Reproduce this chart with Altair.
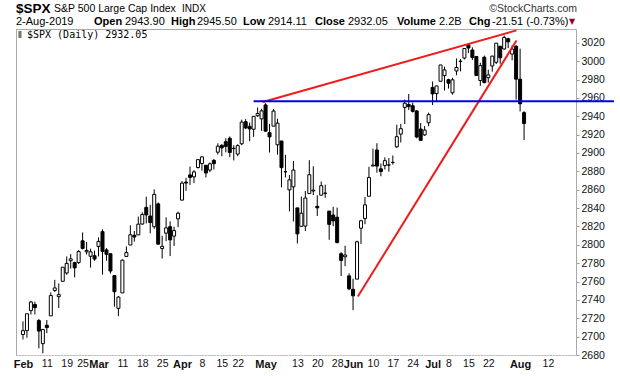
import json
import altair as alt
import pandas as pd

# ---------------- data ----------------
dates = [
    "2019-02-01", "2019-02-04", "2019-02-05", "2019-02-06", "2019-02-07", "2019-02-08", "2019-02-11", "2019-02-12",
    "2019-02-13", "2019-02-14", "2019-02-15", "2019-02-19", "2019-02-20", "2019-02-21", "2019-02-22", "2019-02-25",
    "2019-02-26", "2019-02-27", "2019-02-28",
    "2019-03-01", "2019-03-04", "2019-03-05", "2019-03-06", "2019-03-07", "2019-03-08", "2019-03-11", "2019-03-12",
    "2019-03-13", "2019-03-14", "2019-03-15", "2019-03-18", "2019-03-19", "2019-03-20", "2019-03-21", "2019-03-22",
    "2019-03-25", "2019-03-26", "2019-03-27", "2019-03-28", "2019-03-29",
    "2019-04-01", "2019-04-02", "2019-04-03", "2019-04-04", "2019-04-05", "2019-04-08", "2019-04-09", "2019-04-10",
    "2019-04-11", "2019-04-12", "2019-04-15", "2019-04-16", "2019-04-17", "2019-04-18", "2019-04-22", "2019-04-23",
    "2019-04-24", "2019-04-25", "2019-04-26", "2019-04-29", "2019-04-30",
    "2019-05-01", "2019-05-02", "2019-05-03", "2019-05-06", "2019-05-07", "2019-05-08", "2019-05-09", "2019-05-10",
    "2019-05-13", "2019-05-14", "2019-05-15", "2019-05-16", "2019-05-17", "2019-05-20", "2019-05-21", "2019-05-22",
    "2019-05-23", "2019-05-24", "2019-05-28", "2019-05-29", "2019-05-30", "2019-05-31",
    "2019-06-03", "2019-06-04", "2019-06-05", "2019-06-06", "2019-06-07", "2019-06-10", "2019-06-11", "2019-06-12",
    "2019-06-13", "2019-06-14", "2019-06-17", "2019-06-18", "2019-06-19", "2019-06-20", "2019-06-21", "2019-06-24",
    "2019-06-25", "2019-06-26", "2019-06-27", "2019-06-28",
    "2019-07-01", "2019-07-02", "2019-07-03", "2019-07-05", "2019-07-08", "2019-07-09", "2019-07-10", "2019-07-11",
    "2019-07-12", "2019-07-15", "2019-07-16", "2019-07-17", "2019-07-18", "2019-07-19", "2019-07-22", "2019-07-23",
    "2019-07-24", "2019-07-25", "2019-07-26", "2019-07-29", "2019-07-30", "2019-07-31",
    "2019-08-01", "2019-08-02",
]

opens = [
    2702.32, 2706.49, 2728.34, 2735.05, 2717.53, 2692.36, 2712.40, 2722.61, 2750.30, 2743.50, 2760.24, 2769.28,
    2782.67, 2780.67, 2780.67, 2804.35, 2792.36, 2787.50, 2788.11,
    2798.22, 2814.37, 2794.41, 2790.27, 2766.53, 2730.79, 2747.61, 2787.34, 2799.78, 2810.38, 2810.79, 2822.61,
    2840.76, 2831.34, 2819.72, 2844.52, 2796.01, 2812.66, 2819.72, 2809.40, 2828.27,
    2848.63, 2868.24, 2876.09, 2873.99, 2884.16, 2888.46, 2886.58, 2881.37, 2891.92, 2900.86, 2908.32, 2912.26,
    2916.04, 2904.81, 2898.78, 2909.99, 2934.00, 2928.99, 2925.81, 2940.58, 2937.14,
    2952.33, 2922.16, 2929.21, 2908.89, 2913.03, 2879.61, 2859.84, 2863.10, 2840.19, 2820.12, 2820.38, 2855.80,
    2858.60, 2841.94, 2854.02, 2856.06, 2836.70, 2832.41, 2830.03, 2790.25, 2786.94, 2766.15,
    2751.53, 2762.64, 2818.09, 2828.51, 2852.87, 2885.83, 2903.27, 2882.73, 2886.24, 2886.82, 2889.75, 2906.71,
    2920.55, 2949.60, 2952.71, 2951.42, 2945.78, 2926.07, 2919.66, 2932.94,
    2971.41, 2964.66, 2978.08, 2984.25, 2979.77, 2965.52, 2989.30, 2999.62, 3003.36, 3017.80, 3012.13, 3005.10,
    2978.87, 3004.26, 2981.93, 2994.74, 2998.77, 3016.26, 3013.25, 3024.47, 3007.66, 3016.22,
    2980.32, 2943.90,
]

highs = [
    2716.66, 2724.99, 2738.98, 2738.08, 2719.32, 2708.07, 2718.05, 2748.19, 2761.85, 2757.90, 2775.66, 2787.33,
    2789.88, 2781.58, 2794.20, 2813.49, 2803.12, 2795.76, 2793.73,
    2808.02, 2816.88, 2796.44, 2790.27, 2766.53, 2744.13, 2784.00, 2798.32, 2821.24, 2815.00, 2830.73, 2835.41,
    2852.42, 2843.54, 2860.31, 2846.16, 2809.79, 2829.87, 2825.56, 2819.71, 2836.03,
    2869.40, 2872.90, 2885.25, 2881.28, 2893.24, 2895.95, 2886.88, 2889.71, 2893.42, 2910.54, 2909.60, 2916.06,
    2918.00, 2908.40, 2909.51, 2936.31, 2936.83, 2933.10, 2939.88, 2949.52, 2948.22,
    2954.13, 2931.68, 2947.85, 2937.32, 2913.03, 2897.96, 2875.97, 2891.31, 2840.19, 2852.54, 2858.68, 2892.15,
    2885.48, 2853.86, 2868.88, 2865.47, 2836.70, 2841.36, 2840.51, 2792.03, 2799.00, 2768.98,
    2763.07, 2804.49, 2827.28, 2852.10, 2884.97, 2904.77, 2910.61, 2888.57, 2895.24, 2894.45, 2897.27, 2930.79,
    2931.74, 2958.06, 2964.15, 2954.92, 2946.52, 2932.59, 2929.30, 2943.98,
    2977.93, 2973.21, 2995.84, 2994.03, 2980.76, 2981.90, 3002.98, 3002.33, 3013.92, 3017.80, 3015.02, 3005.26,
    2998.28, 3006.02, 2990.71, 3005.90, 3019.59, 3016.31, 3027.98, 3025.61, 3017.19, 3017.40,
    3013.59, 2945.50,
]

lows = [
    2696.88, 2698.75, 2724.03, 2724.15, 2687.26, 2681.83, 2703.79, 2722.61, 2748.63, 2731.23, 2760.24, 2767.29,
    2774.06, 2764.55, 2779.11, 2794.99, 2789.47, 2775.13, 2782.51,
    2787.38, 2767.66, 2782.54, 2768.69, 2732.75, 2722.27, 2747.61, 2786.73, 2799.78, 2803.46, 2810.79, 2821.99,
    2823.27, 2812.43, 2817.38, 2800.47, 2785.02, 2803.99, 2787.72, 2798.77, 2819.23,
    2848.63, 2858.75, 2865.17, 2867.14, 2882.99, 2880.78, 2873.33, 2879.13, 2881.99, 2898.37, 2896.48, 2900.71,
    2895.45, 2891.90, 2896.35, 2908.53, 2926.05, 2912.84, 2917.56, 2939.35, 2924.11,
    2923.36, 2900.50, 2929.21, 2898.21, 2862.60, 2873.28, 2836.40, 2825.39, 2801.43, 2820.12, 2815.08, 2855.80,
    2854.23, 2831.29, 2854.02, 2851.11, 2805.49, 2820.19, 2801.58, 2766.06, 2776.74, 2750.52,
    2728.81, 2762.64, 2800.92, 2822.45, 2852.87, 2885.51, 2878.53, 2874.68, 2881.99, 2879.62, 2887.30, 2905.44,
    2911.43, 2931.50, 2946.87, 2944.05, 2916.01, 2912.99, 2918.57, 2929.05,
    2952.22, 2955.92, 2977.96, 2967.97, 2970.09, 2963.44, 2984.62, 2988.80, 3001.87, 3008.77, 3001.15, 2984.25,
    2973.09, 2975.86, 2976.65, 2988.56, 2996.82, 2997.24, 3012.59, 3014.30, 3000.94, 2958.08,
    2945.23, 2914.11,
]

closes = [
    2706.53, 2724.87, 2737.70, 2731.61, 2706.05, 2707.88, 2709.80, 2744.73, 2753.03, 2745.73, 2775.60, 2779.76,
    2784.70, 2774.88, 2792.67, 2796.11, 2793.90, 2792.38, 2784.49,
    2803.69, 2792.81, 2789.65, 2771.45, 2748.93, 2743.07, 2783.30, 2791.52, 2810.92, 2808.48, 2822.48, 2832.94,
    2832.57, 2824.23, 2854.88, 2800.71, 2798.36, 2818.46, 2805.37, 2815.44, 2834.40,
    2867.19, 2867.24, 2873.40, 2879.39, 2892.74, 2895.77, 2878.20, 2888.21, 2888.32, 2907.41, 2905.58, 2907.06,
    2900.45, 2905.03, 2907.97, 2933.68, 2927.25, 2926.17, 2939.88, 2943.03, 2945.83,
    2923.73, 2917.52, 2945.64, 2932.47, 2884.05, 2879.42, 2870.72, 2881.40, 2811.87, 2834.41, 2850.96, 2876.32,
    2859.53, 2840.23, 2864.36, 2856.27, 2822.24, 2826.06, 2802.39, 2783.02, 2788.86, 2752.06,
    2744.45, 2803.27, 2826.15, 2843.49, 2873.34, 2886.73, 2885.72, 2879.84, 2891.64, 2886.98, 2889.67, 2917.75,
    2926.46, 2954.18, 2950.46, 2945.35, 2917.38, 2913.78, 2924.92, 2941.76,
    2964.33, 2973.01, 2995.82, 2990.41, 2975.95, 2979.63, 2993.07, 2999.91, 3013.77, 3014.30, 3004.04, 2984.42,
    2995.11, 2976.61, 2985.03, 3005.47, 3019.56, 3003.67, 3025.86, 3020.97, 3013.18, 2980.38,
    2953.56, 2932.05,
]

# x-axis labels (trading-day index -> text)
tick_idx = [0, 6, 11, 15, 19, 25, 30, 35, 40, 45, 50, 54, 61, 69, 74, 79, 83, 88, 93, 98, 103, 107, 112, 117, 125, 132]
tick_text = ["Feb", "11", "19", "25", "Mar", "11", "18", "25", "Apr", "8", "15", "22", "May", "13", "20", "28",
             "Jun", "10", "17", "24", "Jul", "8", "15", "22", "Aug", "12"]
month_idx = [0, 19, 40, 61, 83, 103, 125]

y_ticks = [2680, 2700, 2720, 2740, 2760, 2780, 2800, 2820, 2840, 2860, 2880, 2900, 2920, 2940, 2960, 2980, 3000, 3020]

# trend lines (start index, start price, end index, end price)
line_names = ["upper", "lower", "support"]
line_x1 = [60.3, 84.2, 58.0]
line_y1 = [2955.5, 2743.6, 2956.3]
line_x2 = [124.1, 124.1, 148.6]
line_y2 = [3033.5, 3022.5, 2956.3]
line_colors = ["#ee1c1c", "#ee1c1c", "#0000ee"]

# ---------------- chart ----------------
W, H = 560, 326
FONT = "Liberation Sans"

df = pd.DataFrame({"i": range(len(dates)), "date": dates, "open": opens, "high": highs,
                   "low": lows, "close": closes})
lines_df = pd.DataFrame({"name": line_names, "x1": line_x1, "y1": line_y1, "x2": line_x2,
                         "y2": line_y2, "color": line_colors})
one = pd.DataFrame({"a": [0]})

xscale = alt.Scale(domain=[-0.494, 137.8], nice=False, zero=False)
yscale = alt.Scale(domain=[2680, 3035], nice=False, zero=False)

is_month = "indexof(" + json.dumps(month_idx) + ", datum.value) >= 0"
label_expr = json.dumps(tick_text) + "[indexof(" + json.dumps(tick_idx) + ", datum.value)]"

xaxis = alt.Axis(values=tick_idx, labelExpr=label_expr, title=None, grid=False, ticks=False,
                 domainColor="#9a9a9a", domainDash=[1, 2], labelFont=FONT, labelColor="#111",
                 labelFontSize={"condition": {"test": is_month, "value": 11}, "value": 10.5},
                 labelFontWeight={"condition": {"test": is_month, "value": "bold"}, "value": "normal"},
                 labelPadding=3, labelOverlap=False, labelFlush=False)
yaxis = alt.Axis(values=y_ticks, orient="right", title=None, grid=False, tickSize=3, tickColor="#9a9a9a",
                 domainColor="#aaaaaa", labelFont=FONT, labelFontSize=10.5, labelColor="#111",
                 labelPadding=2, labelOverlap=False, labelFlush=False, format="d")


def X(field):
    return alt.X(field, type="quantitative", scale=xscale, axis=xaxis)


def Y(field):
    return alt.Y(field, type="quantitative", scale=yscale, axis=yaxis)


base = alt.Chart(df)

wicks = base.mark_rule(color="black", strokeWidth=1).encode(x=X("i"), y=Y("low"), y2="high")
bodies = base.mark_bar(size=3, stroke="black", strokeWidth=1).encode(
    x=X("i"), y=Y("open"), y2="close",
    fill=alt.condition("datum.close > datum.open", alt.value("white"), alt.value("black")),
)

trend = alt.Chart(lines_df).mark_rule(strokeWidth=2).encode(
    x=X("x1"), y=Y("y1"), x2="x2", y2="y2", color=alt.Color("color:N", scale=None)
)

frame_top = alt.Chart(one).mark_rule(color="#aaaaaa", strokeWidth=1).encode(
    x=alt.value(0), x2=alt.value(W), y=alt.value(0.5))
frame_left = alt.Chart(one).mark_rule(color="#aaaaaa", strokeWidth=1).encode(
    x=alt.value(0.5), y=alt.value(0), y2=alt.value(H))


def txt(s, x, y, size=10.5, weight="normal", font=FONT, color="black", align="left"):
    return alt.Chart(one).mark_text(align=align, baseline="alphabetic", font=font, fontSize=size,
                                    fontWeight=weight, color=color).encode(
        x=alt.value(x), y=alt.value(y), text=alt.value(s))


# header (positions relative to plot origin at 16,29)
header = [
    txt("$SPX", 0, -16.5, size=13.5, weight="bold"),
    txt("S&P 500 Large Cap Index", 38, -17, size=10.5),
    txt("INDX", 166, -17, size=10),
    txt("\u00a9StockCharts.com", 561, -17.5, size=10.5, color="#333", align="right"),
    txt("2-Aug-2019", 0, -4, size=11),
    txt("Open", 78, -4, size=11, weight="bold"),
    txt("2943.90", 109, -4, size=11),
    txt("High", 155, -4, size=11, weight="bold"),
    txt("2945.50", 181, -4, size=11),
    txt("Low", 227, -4, size=11, weight="bold"),
    txt("2914.11", 252, -4, size=11),
    txt("Close", 299, -4, size=11, weight="bold"),
    txt("2932.05", 332, -4, size=11),
    txt("Volume", 381, -4, size=11, weight="bold"),
    txt("2.2B", 423, -4, size=11),
    txt("Chg", 453, -4, size=11, weight="bold"),
    txt("-21.51 (-0.73%)", 476, -4, size=11),
    txt("\u25bc", 553, -5, size=8, font="DejaVu Sans", color="#990022"),
    txt("$SPX (Daily) 2932.05", 11, 9, size=10, font="DejaVu Sans Mono"),
    txt("\u2af4", 2, 9, size=9, font="DejaVu Sans"),
]

chart = alt.layer(frame_top, frame_left, wicks, bodies, trend, *header).properties(
    width=W, height=H, autosize="none",
    padding={"left": 16, "top": 29, "right": 44, "bottom": 21},
).configure_view(stroke=None).configure(background="white")

chart.save("out.html", embed_options={"renderer": "svg", "actions": False})
